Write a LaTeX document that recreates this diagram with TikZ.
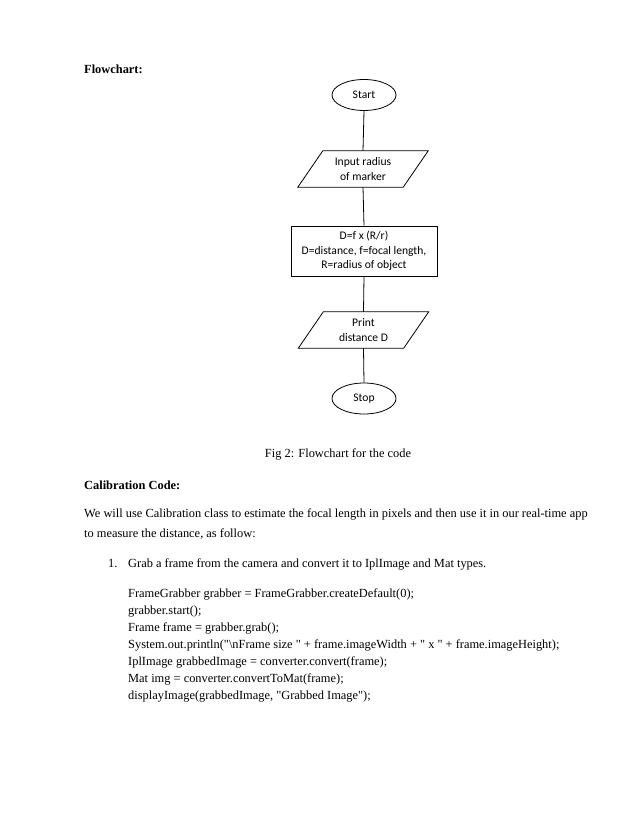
\documentclass[tikz,border=0pt]{standalone}
\usepackage{fontspec}
\setmainfont{Liberation Serif}[Ligatures=TeXOff]
\newfontfamily\flowfont{Carlito}
\newcommand\dq{\symbol{34}}
\usetikzlibrary{shapes.geometric}
\begin{document}
\begin{tikzpicture}[x=1pt,y=-1pt,
  txt/.style={anchor=base west,inner sep=0pt,font=\fontsize{12.4}{15}\selectfont},
  bold/.style={txt,font=\fontsize{12.4}{15}\selectfont\bfseries},
  term/.style={ellipse,draw,line width=0.8pt,minimum width=64pt,minimum height=31pt,inner sep=0pt,font=\flowfont\fontsize{11.6}{14.5}\selectfont},
  body/.style={rectangle,minimum width=105pt,minimum height=36pt,inner sep=0pt,align=center,font=\flowfont\fontsize{11.6}{14.8}\selectfont},
  procbox/.style={rectangle,draw,line width=0.8pt,minimum width=146pt,minimum height=50pt,inner sep=0pt,align=center,font=\flowfont\fontsize{11.6}{14.5}\selectfont},
  conn/.style={line width=0.8pt}]
\useasboundingbox (0,0) rectangle (638,826);
\fill[white] (0,0) rectangle (638,826);

\node[bold] (title) at (84,74) {Flowchart:};

\node[term] (start) at (364,95) {Start};
\node[body] (inp) at (363,169) {Input radius\\of marker};
\node[procbox] (calc) at (364,251) {D=f x (R/r)\\D=distance, f=focal length,\\R=radius of object};
\node[body] (prn) at (363.5,330) {Print\\distance D};
\node[term] (stop) at (364,398.5) {Stop};

\foreach \n in {inp,prn}{
  \draw[line width=0.8pt] ([xshift=12.5pt]\n.north west) -- ([xshift=12.5pt]\n.north east)
    -- ([xshift=-12.5pt]\n.south east) -- ([xshift=-12.5pt]\n.south west) -- cycle;
}

\draw[conn] (start.south) -- (inp.north);
\draw[conn] (inp.south) -- (calc.north);
\draw[conn] (calc.south) -- (prn.north);
\draw[conn] (prn.south) -- (stop.north);

\node[txt,anchor=base] (cap) at (338,457) {Fig 2: Flowchart for the code};

\node[bold] (calhead) at (84,489) {Calibration Code:};
\node[txt] (p1) at (84,517) {We will use Calibration class to estimate the focal length in pixels and then use it in our real-time app};
\node[txt] (p2) at (84,537) {to measure the distance, as follow:};
\node[txt] (num) at (108,567) {1.};
\node[txt] (item) at (128,567) {Grab a frame from the camera and convert it to IplImage and Mat types.};

\node[txt] (c1) at (128,597) {FrameGrabber grabber = FrameGrabber.createDefault(0);};
\node[txt] (c2) at (128,614) {grabber.start();};
\node[txt] (c3) at (128,631) {Frame frame = grabber.grab();};
\node[txt] (c4) at (128,648) {System.out.println(\dq\textbackslash nFrame size \dq{} + frame.imageWidth + \dq{} x \dq{} + frame.imageHeight);};
\node[txt] (c5) at (128,665) {IplImage grabbedImage = converter.convert(frame);};
\node[txt] (c6) at (128,682) {Mat img = converter.convertToMat(frame);};
\node[txt] (c7) at (128,699) {displayImage(grabbedImage, \dq Grabbed Image\dq);};
\end{tikzpicture}
\end{document}
